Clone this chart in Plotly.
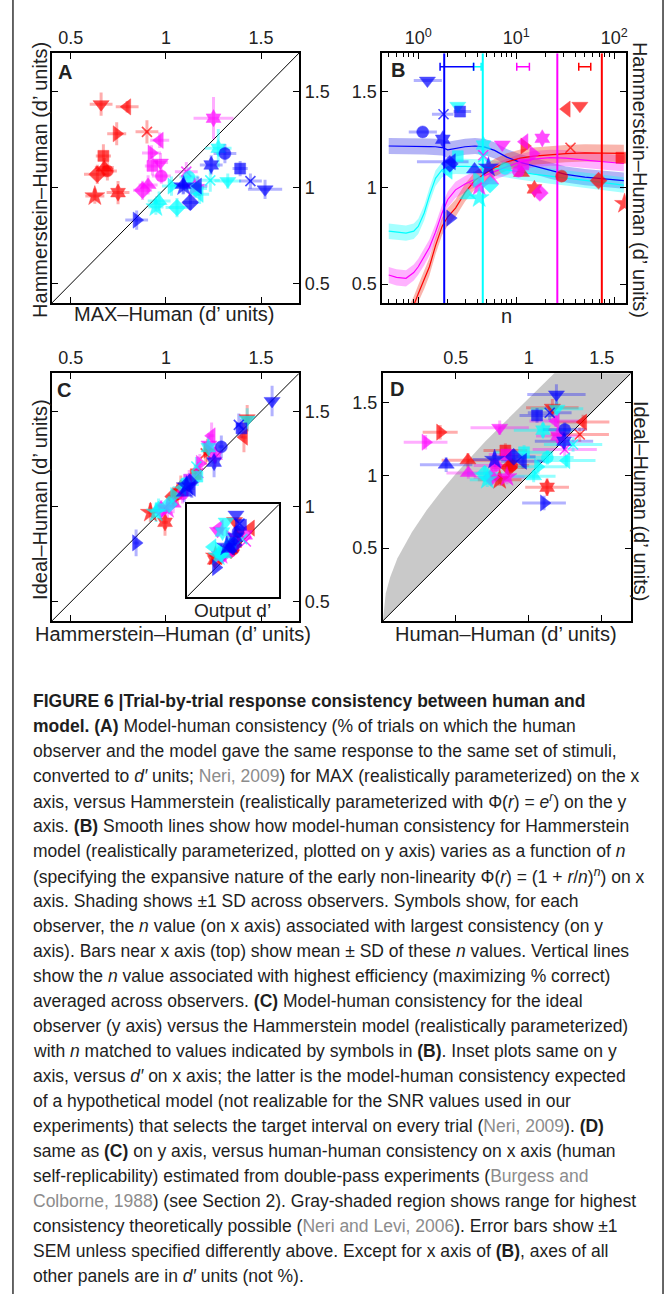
import plotly.graph_objects as go

W, H = 671, 1294
COLORS = ['red', 'magenta', 'cyan', 'blue']
HEX = {'red': '#ff0000', 'magenta': '#ff00ff', 'cyan': '#00ffff', 'blue': '#0000ff'}
PALE = {'red': 'rgba(255,0,0,0.32)', 'magenta': 'rgba(255,0,255,0.32)',
        'cyan': 'rgba(0,255,255,0.42)', 'blue': 'rgba(0,0,255,0.30)'}
BAND = {'red': 'rgba(240,60,40,0.38)', 'magenta': 'rgba(255,0,255,0.30)',
        'cyan': 'rgba(0,255,255,0.35)', 'blue': 'rgba(40,40,230,0.35)'}
# observers (one symbol each): o, s, d, v, ^, <, >, pentagram, hexagram, x
SYMBOLS = ['circle', 'square', 'diamond', 'triangle-down', 'triangle-up',
           'triangle-left', 'triangle-right', 'star', 'hexagram', 'x-thin']
SIZES = [12, 11, 13, 14, 14, 14, 14, 15, 13, 10]
LWID = [0.5] * 9 + [1.6]

# ---------------- Panel A: MAX-Human (x) vs Hammerstein(e^r)-Human (y)
max_human = {
    'red':     [0.692, 0.671, 0.639, 0.659, 0.676, 0.796, 0.741, 0.626, 0.748, 0.900],
    'magenta': [0.976, 0.929, 0.877, 0.971, 0.906, 0.967, 0.924, 1.150, 1.250, 1.107],
    'cyan':    [1.121, 1.156, 1.058, 1.325, 0.964, 1.177, 1.029, 0.947, 1.275, 1.233],
    'blue':    [1.310, 1.390, 1.128, 1.521, 1.090, 1.168, 0.846, 1.093, 1.238, 1.444],
}
hamm_exp = {
    'red':     [1.087, 1.165, 1.069, 1.434, 1.104, 1.420, 1.280, 0.956, 0.974, 1.290],
    'magenta': [1.060, 1.113, 0.986, 1.130, 1.014, 1.246, 1.180, 1.000, 1.361, 1.083],
    'cyan':    [1.055, 0.996, 0.896, 1.034, 0.930, 0.965, 1.008, 0.899, 1.205, 1.038],
    'blue':    [1.177, 1.099, 0.923, 0.991, 1.014, 1.008, 0.831, 1.008, 1.118, 1.034],
}
A_xerr = {
    'red':     [0.05, 0.04, 0.07, 0.06, 0.05, 0.06, 0.05, 0.05, 0.06, 0.06],
    'magenta': [0.05, 0.04, 0.05, 0.04, 0.05, 0.05, 0.05, 0.05, 0.105, 0.06],
    'cyan':    [0.05, 0.06, 0.06, 0.07, 0.06, 0.05, 0.05, 0.04, 0.07, 0.05],
    'blue':    [0.06, 0.04, 0.04, 0.09, 0.05, 0.05, 0.06, 0.04, 0.06, 0.06],
}
A_yerr = {
    'red':     [0.05, 0.06, 0.05, 0.06, 0.05, 0.03, 0.06, 0.04, 0.06, 0.06],
    'magenta': [0.04, 0.05, 0.05, 0.05, 0.05, 0.04, 0.04, 0.05, 0.11, 0.05],
    'cyan':    [0.05, 0.05, 0.05, 0.04, 0.05, 0.05, 0.05, 0.04, 0.10, 0.06],
    'blue':    [0.05, 0.04, 0.04, 0.05, 0.05, 0.05, 0.05, 0.04, 0.05, 0.04],
}

# ---------------- Panel B: best n (x, log) vs Hammerstein-Human at best n (y)
n_best = {
    'red':     [29.0, 118.0, 69.0, 44.5, 11.3, 32.6, 12.1, 127.0, 15.3, 35.7],
    'magenta': [10.5, 11.8, 17.4, 7.2, 5.5, 12.1, 14.9, 4.18, 18.4, 4.6],
    'cyan':    [7.68, 2.53, 5.4, 2.53, 3.2, 2.04, 3.98, 4.18, 4.62, 4.6],
    'blue':    [1.11, 2.67, 2.1, 1.24, 3.75, 2.2, 2.12, 5.2, 1.78, 1.81],
}
hamm_best = {
    'red':     [1.061, 1.157, 1.038, 1.427, 1.078, 1.410, 1.218, 0.918, 0.995, 1.209],
    'magenta': [1.087, 1.122, 0.974, 1.226, 1.038, 1.240, 1.178, 1.008, 1.258, 1.170],
    'cyan':    [1.101, 1.165, 1.017, 1.427, 0.961, 1.087, 1.043, 0.948, 1.223, 1.160],
    'blue':    [1.291, 1.397, 1.125, 1.558, 1.096, 1.136, 0.843, 1.108, 1.253, 1.383],
}
n_lo_blue = [0.80, 2.29, 2.10, 0.90, 3.75, 0.97, 2.12, 5.20, 1.78, 1.38]
n_hi_blue = [1.55, 3.46, 2.10, 1.74, 3.75, 3.26, 2.12, 5.20, 1.78, 2.29]

n_grid = [0.5, 0.6, 0.75, 0.9, 1.0, 1.15, 1.3, 1.5, 1.75, 2.0, 2.4, 3.0, 3.8, 4.8,
          6.0, 8.0, 11, 15, 22, 32, 50, 80, 125]
curve = {
    'blue':    [1.218, 1.218, 1.217, 1.216, 1.216, 1.216, 1.215, 1.214, 1.210, 1.198, 1.207, 1.214,
                1.218, 1.212, 1.195, 1.160, 1.133, 1.115, 1.090, 1.070, 1.056, 1.045, 1.038],
    'cyan':    [0.775, 0.770, 0.765, 0.775, 0.800, 0.870, 0.960, 1.050, 1.095, 1.108, 1.112, 1.112,
                1.110, 1.108, 1.102, 1.094, 1.083, 1.072, 1.062, 1.052, 1.038, 1.026, 1.015],
    'magenta': [0.547, 0.535, 0.530, 0.560, 0.590, 0.640, 0.690, 0.770, 0.870, 0.940, 0.990, 1.020,
                1.045, 1.065, 1.085, 1.110, 1.135, 1.150, 1.157, 1.155, 1.145, 1.135, 1.127],
    'red':     [0.200, 0.240, 0.310, 0.390, 0.450, 0.520, 0.590, 0.700, 0.800, 0.850, 0.895, 0.975,
                1.040, 1.075, 1.105, 1.135, 1.155, 1.165, 1.172, 1.178, 1.182, 1.182, 1.180],
}
curve_sd = {'blue': 0.042, 'cyan': 0.040, 'magenta': 0.042, 'red': 0.045}
n_efficient = {'blue': 1.84, 'cyan': 4.55, 'magenta': 26.2, 'red': 74.5}
bar_mean = {'blue': 2.67, 'cyan': 4.02, 'magenta': 11.85, 'red': 50.4}
bar_sd = {'blue': 1.0, 'cyan': 0.36, 'magenta': 1.75, 'red': 7.05}
bar_y = 1.63

# ---------------- Panel C / D: Ideal-Human (y)
ideal = {
    'red':     [1.067, 1.170, 1.053, 1.464, 1.103, 1.365, 1.296, 0.969, 0.918, 1.280],
    'magenta': [1.067, 1.142, 0.985, 1.326, 1.016, 1.372, 1.227, 0.989, 1.270, 1.177],
    'cyan':    [1.122, 1.158, 1.012, 1.457, 0.993, 1.101, 1.058, 0.970, 1.310, 1.211],
    'blue':    [1.314, 1.411, 1.127, 1.555, 1.073, 1.096, 0.810, 1.108, 1.234, 1.429],
}
C_yerr = {
    'red':     [0.06, 0.05, 0.05, 0.07, 0.06, 0.08, 0.06, 0.05, 0.07, 0.06],
    'magenta': [0.05, 0.05, 0.05, 0.06, 0.05, 0.07, 0.05, 0.05, 0.06, 0.05],
    'cyan':    [0.05, 0.05, 0.05, 0.06, 0.05, 0.05, 0.05, 0.05, 0.06, 0.05],
    'blue':    [0.06, 0.05, 0.05, 0.08, 0.05, 0.05, 0.07, 0.05, 0.08, 0.06],
}
output_d = {
    'red':     [1.05, 1.09, 1.02, 1.07, 0.98, 1.30, 1.12, 0.80, 0.79, 1.15],
    'magenta': [0.98, 1.05, 0.90, 0.83, 0.95, 0.86, 1.00, 0.88, 1.22, 1.23],
    'cyan':    [1.00, 1.02, 0.88, 0.95, 0.92, 0.757, 0.85, 0.84, 0.90, 1.18],
    'blue':    [1.12, 1.16, 1.06, 1.09, 1.00, 1.02, 0.808, 0.96, 1.08, 1.14],
}
human_human = {
    'red':     [0.883, 0.840, 0.865, 1.162, 0.583, 1.373, 0.393, 0.801, 1.126, 1.350],
    'magenta': [0.773, 0.846, 0.743, 0.801, 0.586, 1.185, 0.293, 0.851, 1.200, 1.247],
    'cyan':    [1.128, 0.968, 0.698, 1.194, 1.034, 1.258, 1.064, 0.716, 1.098, 1.304],
    'blue':    [1.247, 1.057, 0.897, 1.190, 0.434, 0.961, 1.105, 0.766, 1.242, 1.144],
}
D_xerr = {
    'red':     [0.12, 0.15, 0.12, 0.18, 0.18, 0.18, 0.12, 0.15, 0.15, 0.20],
    'magenta': [0.15, 0.12, 0.12, 0.20, 0.15, 0.18, 0.15, 0.12, 0.15, 0.22],
    'cyan':    [0.18, 0.20, 0.12, 0.18, 0.15, 0.20, 0.20, 0.12, 0.20, 0.20],
    'blue':    [0.15, 0.12, 0.15, 0.20, 0.18, 0.15, 0.15, 0.15, 0.20, 0.15],
}
D_yerr = {
    'red':     [0.05, 0.05, 0.05, 0.06, 0.05, 0.05, 0.05, 0.04, 0.06, 0.05],
    'magenta': [0.05, 0.05, 0.04, 0.05, 0.04, 0.04, 0.05, 0.05, 0.05, 0.05],
    'cyan':    [0.05, 0.05, 0.05, 0.05, 0.04, 0.04, 0.05, 0.05, 0.05, 0.05],
    'blue':    [0.05, 0.05, 0.05, 0.07, 0.05, 0.05, 0.05, 0.05, 0.05, 0.05],
}
# upper bound of theoretically possible consistency (gray region)
bound_x = [0.0, 0.02, 0.05, 0.1, 0.2, 0.3, 0.4, 0.5, 0.6, 0.7, 0.8, 0.9, 1.0, 1.1, 1.18]
bound_y = [0.0, 0.19, 0.30, 0.43, 0.61, 0.76, 0.89, 1.01, 1.12, 1.23, 1.33, 1.43, 1.53, 1.63, 1.705]

R_AC = [0.4, 1.7]
R_B_LOGX = [-0.366, 2.117]
R_D = [0.0, 1.7]
TICKS = [0.5, 1, 1.5]
TICKTEXT = ['0.5', '1', '1.5']
B_MAJOR = [1, 10, 100]
B_MAJOR_TEXT = ['10<sup>0</sup>', '10<sup>1</sup>', '10<sup>2</sup>']
B_MINOR = [0.5, 0.6, 0.7, 0.8, 0.9, 2, 3, 4, 5, 6, 7, 8, 9, 20, 30, 40, 50, 60, 70, 80, 90]

FONT = 'Liberation Sans, Arial, Helvetica, sans-serif'

fig = go.Figure()


def err_trace(x, y, ex, ey, c, xa, ya, ex_minus=None):
    kw = {}
    if ex is not None:
        if ex_minus is not None:
            kw['error_x'] = dict(type='data', symmetric=False, array=ex, arrayminus=ex_minus,
                                 color=PALE[c], thickness=3, width=0)
        else:
            kw['error_x'] = dict(type='data', array=ex, color=PALE[c], thickness=3, width=0)
    if ey is not None:
        kw['error_y'] = dict(type='data', array=ey, color=PALE[c], thickness=3, width=0)
    fig.add_trace(go.Scatter(x=x, y=y, mode='markers', marker=dict(size=2, color='rgba(0,0,0,0)'),
                             xaxis=xa, yaxis=ya, hoverinfo='skip', showlegend=False, **kw))


def marker_trace(x, y, c, xa, ya):
    fig.add_trace(go.Scatter(x=x, y=y, mode='markers', xaxis=xa, yaxis=ya, showlegend=False,
                             marker=dict(symbol=SYMBOLS, size=SIZES, color=HEX[c],
                                         line=dict(color=HEX[c], width=LWID))))


def diag(xa, ya, r):
    fig.add_trace(go.Scatter(x=r, y=r, mode='lines', line=dict(color='black', width=1),
                             xaxis=xa, yaxis=ya, hoverinfo='skip', showlegend=False))


# ----- Panel A
diag('x', 'y', R_AC)
for c in COLORS:
    err_trace(max_human[c], hamm_exp[c], A_xerr[c], A_yerr[c], c, 'x', 'y')
for c in COLORS:
    marker_trace(max_human[c], hamm_exp[c], c, 'x', 'y')

# ----- Panel B
for c in ['blue', 'cyan', 'magenta', 'red']:
    up = [v + curve_sd[c] for v in curve[c]]
    lo = [v - curve_sd[c] for v in curve[c]]
    fig.add_trace(go.Scatter(x=n_grid + n_grid[::-1], y=up + lo[::-1], fill='toself',
                             fillcolor=BAND[c], line=dict(width=0), mode='lines',
                             xaxis='x2', yaxis='y2', hoverinfo='skip', showlegend=False))
for c in ['blue', 'cyan', 'magenta', 'red']:
    fig.add_trace(go.Scatter(x=n_grid, y=curve[c], mode='lines', line=dict(color=HEX[c], width=1.2),
                             xaxis='x2', yaxis='y2', hoverinfo='skip', showlegend=False))
for c in COLORS:
    fig.add_trace(go.Scatter(x=[n_efficient[c]] * 2, y=R_AC, mode='lines',
                             line=dict(color=HEX[c], width=2),
                             xaxis='x2', yaxis='y2', hoverinfo='skip', showlegend=False))
err_trace(n_best['blue'], hamm_best['blue'],
          [h - n for h, n in zip(n_hi_blue, n_best['blue'])], None, 'blue', 'x2', 'y2',
          ex_minus=[n - l for l, n in zip(n_lo_blue, n_best['blue'])])
for c in COLORS:
    marker_trace(n_best[c], hamm_best[c], c, 'x2', 'y2')
for c in COLORS:
    fig.add_trace(go.Scatter(x=[bar_mean[c]], y=[bar_y], mode='markers',
                             marker=dict(size=2, color='rgba(0,0,0,0)'),
                             error_x=dict(type='data', array=[bar_sd[c]], color=HEX[c],
                                          thickness=1.5, width=4),
                             xaxis='x2', yaxis='y2', hoverinfo='skip', showlegend=False))

# ----- Panel C
diag('x3', 'y3', R_AC)
for c in COLORS:
    err_trace(hamm_best[c], ideal[c], [0.015] * 10, C_yerr[c], c, 'x3', 'y3')
for c in COLORS:
    marker_trace(hamm_best[c], ideal[c], c, 'x3', 'y3')

# ----- Inset of C
diag('x5', 'y5', R_AC)
for c in COLORS:
    marker_trace(output_d[c], ideal[c], c, 'x5', 'y5')

# ----- Panel D
fig.add_trace(go.Scatter(x=bound_x + [R_D[1], R_D[0]], y=bound_y + [R_D[1], R_D[0]],
                         fill='toself', fillcolor='#c9c9c9', line=dict(width=0), mode='lines',
                         xaxis='x4', yaxis='y4', hoverinfo='skip', showlegend=False))
diag('x4', 'y4', R_D)
for c in COLORS:
    err_trace(human_human[c], ideal[c], D_xerr[c], D_yerr[c], c, 'x4', 'y4')
for c in COLORS:
    marker_trace(human_human[c], ideal[c], c, 'x4', 'y4')


def dx(x0, x1):
    return [x0 / W, x1 / W]


def dy(y0, y1):
    return [1 - y1 / H, 1 - y0 / H]


base = dict(showline=True, linecolor='black', linewidth=2, mirror='ticks', ticks='inside',
            ticklen=6, tickwidth=1.2, tickcolor='black', showgrid=False, zeroline=False,
            tickfont=dict(family=FONT, size=18, color='#222'))

fig.update_layout(
    width=W, height=H, margin=dict(l=0, r=0, t=0, b=0),
    paper_bgcolor='white', plot_bgcolor='white', showlegend=False,
    xaxis=dict(base, domain=dx(52, 300), range=R_AC, side='top', tickvals=TICKS,
               ticktext=TICKTEXT, anchor='y'),
    yaxis=dict(base, domain=dy(53, 303), range=R_AC, side='right', tickvals=TICKS,
               ticktext=TICKTEXT, anchor='x'),
    xaxis2=dict(base, domain=dx(383.5, 627.7), type='log', range=R_B_LOGX, side='top',
                tickvals=B_MAJOR, ticktext=B_MAJOR_TEXT, anchor='y2', ticklen=6,
                minor=dict(tickvals=B_MINOR, ticks='inside', ticklen=4, tickcolor='black',
                           tickwidth=1, showgrid=False)),
    yaxis2=dict(base, domain=dy(53.3, 303.3), range=R_AC, side='left', tickvals=TICKS,
                ticktext=TICKTEXT, anchor='x2'),
    xaxis3=dict(base, domain=dx(52, 300), range=R_AC, side='top', tickvals=TICKS,
                ticktext=TICKTEXT, anchor='y3'),
    yaxis3=dict(base, domain=dy(373.3, 621), range=R_AC, side='right', tickvals=TICKS,
                ticktext=TICKTEXT, anchor='x3'),
    xaxis4=dict(base, domain=dx(384, 632.7), range=R_D, side='top', tickvals=TICKS,
                ticktext=TICKTEXT, anchor='y4'),
    yaxis4=dict(base, domain=dy(373.3, 621), range=R_D, side='left', tickvals=TICKS,
                ticktext=TICKTEXT, anchor='x4'),
    xaxis5=dict(domain=dx(187.7, 280), range=R_AC, showline=True, linecolor='black', linewidth=2,
                mirror=True, ticks='', showticklabels=False, showgrid=False, zeroline=False,
                anchor='y5'),
    yaxis5=dict(domain=dy(504.3, 596.7), range=R_AC, showline=True, linecolor='black', linewidth=2,
                mirror=True, ticks='', showticklabels=False, showgrid=False, zeroline=False,
                anchor='x5'),
)

ann = []


def add_text(text, px, py, size=20, angle=0, xanchor='center', bold=False, color='#222'):
    ann.append(dict(text=('<b>%s</b>' % text) if bold else text, x=px / W, y=1 - py / H,
                    xref='paper', yref='paper', showarrow=False, textangle=angle,
                    xanchor=xanchor, yanchor='middle', font=dict(family=FONT, size=size, color=color)))


add_text('MAX–Human (d’ units)', 175, 314)
add_text('Hammerstein–Human (d’ units)', 40, 180, angle=-90)
add_text('n', 508, 316)
add_text('Hammerstein–Human (d’ units)', 642, 180, angle=90)
add_text('Hammerstein–Human (d’ units)', 174, 634)
add_text('Ideal–Human (d’ units)', 40, 500, angle=-90)
add_text('Human–Human (d’ units)', 508, 634)
add_text('Ideal–Human (d’ units)', 643, 501, angle=90)
add_text('Output d’', 233, 610, size=19)
add_text('A', 56, 72, size=20, xanchor='left', bold=True)
add_text('B', 390, 70, size=20, xanchor='left', bold=True)
add_text('C', 55, 390, size=20, xanchor='left', bold=True)
add_text('D', 389, 389, size=20, xanchor='left', bold=True)

G = "<span style='color:#8c8c8c'>%s</span>"
caption = [
    "<b>FIGURE 6 |Trial-by-trial response consistency between human and</b>",
    "<b>model. (A)</b> Model-human consistency (% of trials on which the human",
    "observer and the model gave the same response to the same set of stimuli,",
    "converted to <i>d′</i> units; " + G % "Neri, 2009" + ") for MAX (realistically parameterized) on the x",
    "axis, versus Hammerstein (realistically parameterized with Φ(<i>r</i>) = <i>e</i><sup><i>r</i></sup>) on the y",
    "axis. <b>(B)</b> Smooth lines show how model-human consistency for Hammerstein",
    "model (realistically parameterized, plotted on y axis) varies as a function of <i>n</i>",
    "(specifying the expansive nature of the early non-linearity Φ(<i>r</i>) = (1 + <i>r</i>/<i>n</i>)<sup><i>n</i></sup>) on x",
    "axis. Shading shows ±1 SD across observers. Symbols show, for each",
    "observer, the <i>n</i> value (on x axis) associated with largest consistency (on y",
    "axis). Bars near x axis (top) show mean ± SD of these <i>n</i> values. Vertical lines",
    "show the <i>n</i> value associated with highest efficiency (maximizing % correct)",
    "averaged across observers. <b>(C)</b> Model-human consistency for the ideal",
    "observer (y axis) versus the Hammerstein model (realistically parameterized)",
    "with <i>n</i> matched to values indicated by symbols in <b>(B)</b>. Inset plots same on y",
    "axis, versus <i>d′</i> on x axis; the latter is the model-human consistency expected",
    "of a hypothetical model (not realizable for the SNR values used in our",
    "experiments) that selects the target interval on every trial (" + G % "Neri, 2009" + "). <b>(D)</b>",
    "same as <b>(C)</b> on y axis, versus human-human consistency on x axis (human",
    "self-replicability) estimated from double-pass experiments (" + G % "Burgess and",
    G % "Colborne, 1988" + ") (see Section 2). Gray-shaded region shows range for highest",
    "consistency theoretically possible (" + G % "Neri and Levi, 2006" + "). Error bars show ±1",
    "SEM unless specified differently above. Except for x axis of <b>(B)</b>, axes of all",
    "other panels are in <i>d′</i> units (not %).",
]
for i, line in enumerate(caption):
    add_text(line, 31, 701 + 25 * i, size=17.5, xanchor='left', color='#1e1e1e')

fig.update_layout(annotations=ann)
fig.update_layout(shapes=[
    dict(type='line', xref='paper', yref='paper', x0=13 / W, x1=13 / W, y0=0, y1=1,
         line=dict(color='#333', width=1.5)),
    dict(type='line', xref='paper', yref='paper', x0=665 / W, x1=665 / W, y0=0, y1=1,
         line=dict(color='#333', width=1.5)),
])

fig.write_html('out.html')
